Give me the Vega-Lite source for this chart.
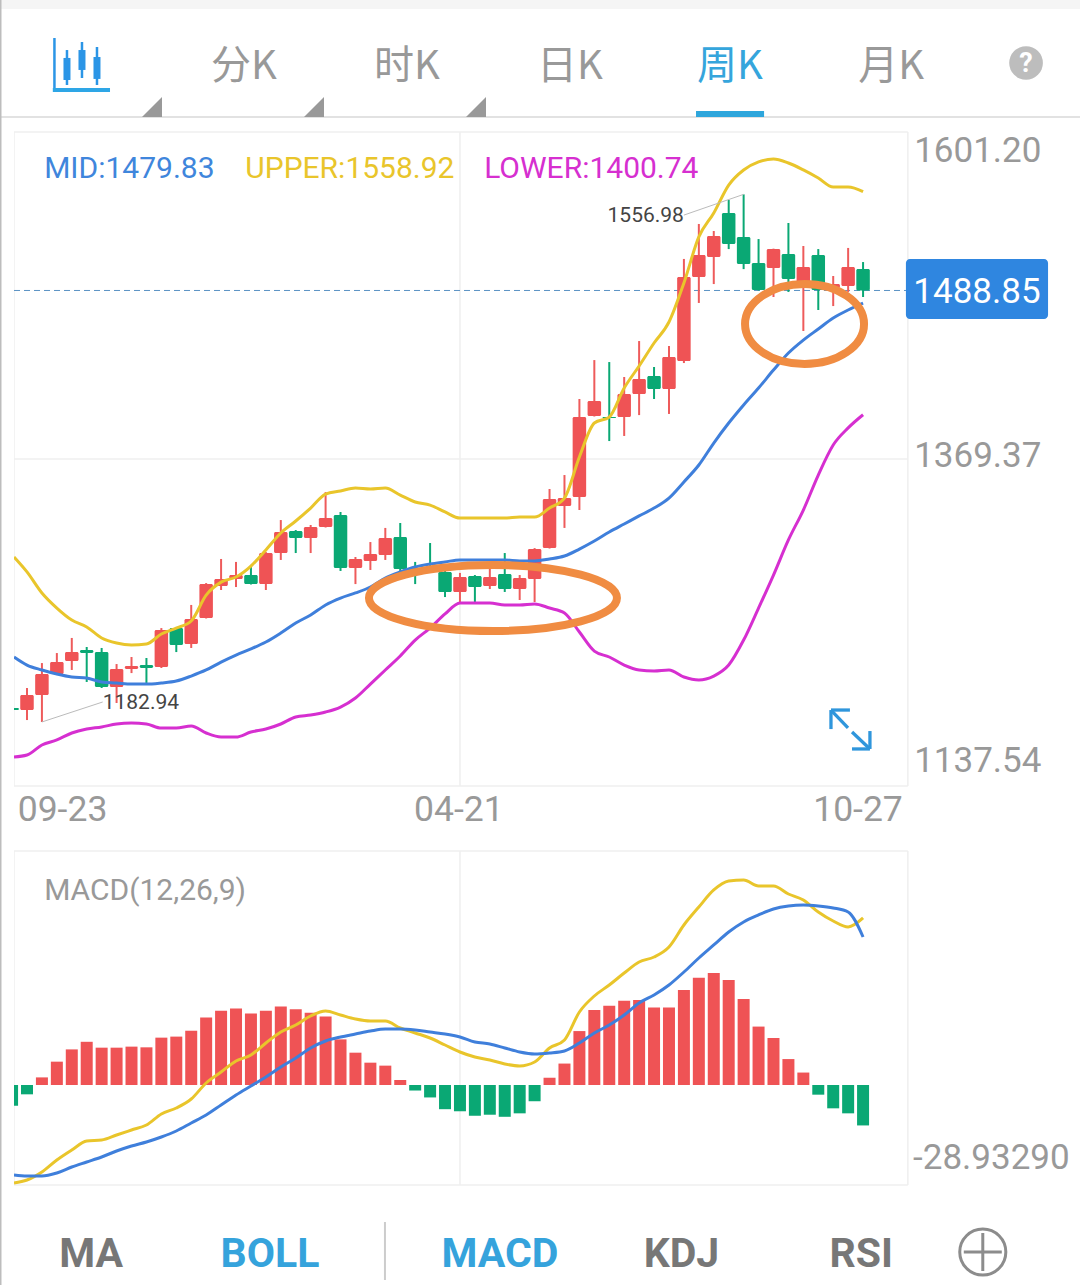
{
"$schema":"https://vega.github.io/schema/vega-lite/v6.json",
"padding":0,"spacing":0,"bounds":"flush","background":"white",
"resolve":{"scale":{"color":"independent"}},
"config":{"view":{"stroke":null},"axis":{"disable":true,"grid":false,"domain":false,"ticks":false,"title":null},"text":{"font":"Roboto"}},
"datasets":{
"candles":[
{"i":-1,"o":1192.8,"h":1193.5,"l":1190.7,"c":1191.4},{"i":0,"o":1191.4,"h":1207.0,"l":1184.3,"c":1202.0},{"i":1,"o":1202.0,"h":1224.7,"l":1182.94,"c":1216.9},{"i":2,"o":1216.9,"h":1231.8,"l":1216.2,"c":1225.4},{"i":3,"o":1226.1,"h":1242.5,"l":1219.8,"c":1232.5},{"i":4,"o":1233.9,"h":1236.1,"l":1211.3,"c":1231.8},{"i":5,"o":1232.5,"h":1235.4,"l":1207.0,"c":1207.7},{"i":6,"o":1207.7,"h":1224.0,"l":1196.4,"c":1220.5},{"i":7,"o":1220.5,"h":1229.0,"l":1217.6,"c":1222.6},{"i":8,"o":1223.3,"h":1228.3,"l":1210.6,"c":1221.2},
{"i":9,"o":1221.9,"h":1249.5,"l":1221.2,"c":1248.1},{"i":10,"o":1249.5,"h":1250.3,"l":1232.5,"c":1237.5},{"i":11,"o":1238.2,"h":1265.9,"l":1235.4,"c":1255.9},{"i":12,"o":1256.6,"h":1281.4,"l":1256.3,"c":1280.7},{"i":13,"o":1279.3,"h":1298.5,"l":1276.5,"c":1284.3},{"i":14,"o":1284.3,"h":1296.4,"l":1278.6,"c":1287.1},{"i":15,"o":1287.1,"h":1294.3,"l":1280.4,"c":1280.7},{"i":16,"o":1280.7,"h":1303.4,"l":1276.5,"c":1302.7},{"i":17,"o":1302.7,"h":1326.1,"l":1297.8,"c":1317.6},{"i":18,"o":1318.3,"h":1319.0,"l":1302.7,"c":1313.4},
{"i":19,"o":1313.4,"h":1322.6,"l":1302.7,"c":1321.2},{"i":20,"o":1321.2,"h":1345.9,"l":1320.8,"c":1327.5},{"i":21,"o":1329.7,"h":1331.8,"l":1290.0,"c":1292.1},{"i":22,"o":1292.1,"h":1299.9,"l":1280.7,"c":1298.5},{"i":23,"o":1297.1,"h":1310.5,"l":1290.7,"c":1302.0},{"i":24,"o":1301.3,"h":1320.5,"l":1297.8,"c":1313.4},{"i":25,"o":1314.1,"h":1324.0,"l":1289.3,"c":1291.4},{"i":26,"o":1292.1,"h":1296.4,"l":1280.7,"c":1290.0},{"i":27,"o":1292.1,"h":1309.8,"l":1288.6,"c":1289.3},{"i":28,"o":1289.3,"h":1290.7,"l":1271.5,"c":1275.1},
{"i":29,"o":1275.1,"h":1288.6,"l":1267.3,"c":1285.7},{"i":30,"o":1286.4,"h":1287.1,"l":1267.3,"c":1278.6},{"i":31,"o":1279.3,"h":1291.4,"l":1277.2,"c":1285.7},{"i":32,"o":1287.8,"h":1302.7,"l":1275.1,"c":1277.2},{"i":33,"o":1277.2,"h":1287.1,"l":1269.4,"c":1285.0},{"i":34,"o":1284.3,"h":1306.2,"l":1268.0,"c":1305.5},{"i":35,"o":1306.2,"h":1348.1,"l":1305.9,"c":1341.0},{"i":36,"o":1336.0,"h":1358.0,"l":1320.5,"c":1341.7},{"i":37,"o":1342.4,"h":1411.9,"l":1333.2,"c":1399.1},{"i":38,"o":1399.8,"h":1439.5,"l":1399.5,"c":1410.5},
{"i":39,"o":1399.1,"h":1438.1,"l":1382.1,"c":1398.4},{"i":40,"o":1399.1,"h":1427.5,"l":1385.7,"c":1415.5},{"i":41,"o":1415.5,"h":1453.0,"l":1400.5,"c":1426.1},{"i":42,"o":1428.2,"h":1434.6,"l":1411.9,"c":1419.0},{"i":43,"o":1419.0,"h":1449.5,"l":1401.3,"c":1441.7},{"i":44,"o":1438.8,"h":1511.2,"l":1437.4,"c":1498.4},{"i":45,"o":1498.4,"h":1536.0,"l":1480.0,"c":1514.0},{"i":46,"o":1512.6,"h":1531.0,"l":1493.4,"c":1527.5},{"i":47,"o":1543.8,"h":1553.0,"l":1518.2,"c":1521.8},{"i":48,"o":1526.8,"h":1556.98,"l":1504.0,"c":1507.6},
{"i":49,"o":1508.3,"h":1525.3,"l":1488.8,"c":1489.2},{"i":50,"o":1504.8,"h":1518.5,"l":1484.2,"c":1518.2},{"i":51,"o":1514.7,"h":1536.7,"l":1487.8,"c":1497.0},{"i":52,"o":1493.4,"h":1520.4,"l":1460.1,"c":1505.5},{"i":53,"o":1514.0,"h":1518.2,"l":1475.0,"c":1489.2},{"i":54,"o":1490.6,"h":1499.1,"l":1477.8,"c":1493.4},{"i":55,"o":1492.0,"h":1519.0,"l":1487.8,"c":1505.5},{"i":56,"o":1504.1,"h":1509.0,"l":1484.2,"c":1488.85}
],
"boll":[
{"i":-0.87,"u":1299.9,"m":1229.0,"d":1158.1},{"i":0,"u":1289.3,"m":1223.3,"d":1159.5},{"i":1,"u":1274.4,"m":1219.8,"d":1166.6},{"i":2,"u":1263.7,"m":1216.9,"d":1170.2},{"i":3,"u":1255.2,"m":1214.8,"d":1175.1},{"i":4,"u":1250.3,"m":1214.1,"d":1177.9},{"i":5,"u":1242.5,"m":1211.3,"d":1179.4},{"i":6,"u":1238.9,"m":1210.6,"d":1181.5},{"i":7,"u":1237.5,"m":1209.8,"d":1182.2},{"i":8,"u":1238.2,"m":1209.8,"d":1181.5},{"i":9,"u":1245.3,"m":1210.6,"d":1178.6},{"i":10,"u":1249.5,"m":1212.0,"d":1178.6},{"i":11,"u":1254.5,"m":1215.5,"d":1180.1},{"i":12,"u":1272.9,"m":1219.8,"d":1175.1},{"i":13,"u":1282.1,"m":1225.4,"d":1172.3},{"i":14,"u":1285.7,"m":1230.4,"d":1172.3},{"i":15,"u":1293.5,"m":1234.7,"d":1175.8},{"i":16,"u":1304.9,"m":1239.6,"d":1177.9},{"i":17,"u":1316.9,"m":1246.0,"d":1181.5},{"i":18,"u":1325.4,"m":1253.1,"d":1186.5},{"i":19,"u":1334.6,"m":1258.8,"d":1187.9},{"i":20,"u":1344.5,"m":1265.9,"d":1190.0},{"i":21,"u":1346.7,"m":1270.8,"d":1193.5},{"i":22,"u":1348.8,"m":1274.4,"d":1199.9},{"i":23,"u":1348.1,"m":1278.6,"d":1209.8},{"i":24,"u":1348.8,"m":1285.0,"d":1219.8},{"i":25,"u":1343.8,"m":1289.3,"d":1229.7},{"i":26,"u":1338.9,"m":1292.8,"d":1241.0},{"i":27,"u":1336.7,"m":1294.9,"d":1249.5},{"i":28,"u":1331.8,"m":1296.4,"d":1259.5},{"i":29,"u":1327.5,"m":1297.8,"d":1267.3},{"i":30,"u":1327.5,"m":1297.8,"d":1267.3},{"i":31,"u":1327.5,"m":1297.8,"d":1267.3},{"i":32,"u":1327.5,"m":1297.8,"d":1265.9},{"i":33,"u":1328.2,"m":1297.1,"d":1265.9},{"i":34,"u":1328.2,"m":1297.1,"d":1266.6},{"i":35,"u":1334.6,"m":1298.5,"d":1263.7},{"i":36,"u":1341.7,"m":1300.6,"d":1260.2},{"i":37,"u":1370.8,"m":1305.5,"d":1246.7},{"i":38,"u":1394.9,"m":1311.2,"d":1233.2},{"i":39,"u":1399.1,"m":1317.6,"d":1229.0},{"i":40,"u":1419.7,"m":1323.3,"d":1223.3},{"i":41,"u":1435.3,"m":1329.0,"d":1219.8},{"i":42,"u":1451.6,"m":1334.6,"d":1219.1},{"i":43,"u":1466.5,"m":1341.7,"d":1219.8},{"i":44,"u":1494.2,"m":1353.1,"d":1214.8},{"i":45,"u":1526.8,"m":1365.1,"d":1212.7},{"i":46,"u":1543.8,"m":1380.7,"d":1215.5},{"i":47,"u":1563.6,"m":1394.9,"d":1223.3},{"i":48,"u":1574.3,"m":1407.7,"d":1241.0},{"i":49,"u":1580.0,"m":1419.7,"d":1263.7},{"i":50,"u":1582.1,"m":1432.4,"d":1287.1},{"i":51,"u":1579.2,"m":1444.5,"d":1312.0},{"i":52,"u":1574.3,"m":1453.7,"d":1333.2},{"i":53,"u":1568.6,"m":1461.5,"d":1358.0},{"i":54,"u":1562.2,"m":1469.3,"d":1379.3},{"i":55,"u":1562.2,"m":1475.0,"d":1391.4},{"i":56,"u":1558.92,"m":1479.83,"d":1400.74}
],
"hist":[
{"i":-1,"v":-6.0},{"i":0,"v":-2.7},{"i":1,"v":2.2},{"i":2,"v":6.75},{"i":3,"v":10.3},{"i":4,"v":12.5},{"i":5,"v":10.8},{"i":6,"v":10.8},{"i":7,"v":11.1},{"i":8,"v":10.9},{"i":9,"v":13.7},{"i":10,"v":14.0},{"i":11,"v":15.7},{"i":12,"v":19.5},{"i":13,"v":21.5},{"i":14,"v":22.1},{"i":15,"v":20.7},{"i":16,"v":21.5},{"i":17,"v":22.7},{"i":18,"v":21.9},{"i":19,"v":20.9},{"i":20,"v":19.8},{"i":21,"v":13.2},{"i":22,"v":9.35},{"i":23,"v":6.46},{"i":24,"v":5.6},{"i":25,"v":1.45},{"i":26,"v":-1.6},{"i":27,"v":-3.6},{"i":28,"v":-7.0},{"i":29,"v":-7.6},{"i":30,"v":-8.9},{"i":31,"v":-8.6},{"i":32,"v":-9.2},{"i":33,"v":-8.2},{"i":34,"v":-4.7},{"i":35,"v":2.1},{"i":36,"v":6.2},{"i":37,"v":15.6},{"i":38,"v":21.7},{"i":39,"v":22.9},{"i":40,"v":24.4},{"i":41,"v":24.6},{"i":42,"v":22.4},{"i":43,"v":22.4},{"i":44,"v":27.5},{"i":45,"v":31.0},{"i":46,"v":32.4},{"i":47,"v":30.4},{"i":48,"v":24.9},{"i":49,"v":16.9},{"i":50,"v":13.6},{"i":51,"v":7.5},{"i":52,"v":3.6},{"i":53,"v":-2.8},{"i":54,"v":-6.75},{"i":55,"v":-8.2},{"i":56,"v":-11.7}
],
"macd":[
{"i":-0.87,"f":-28.35,"s":-26.04},{"i":0,"f":-27.49,"s":-26.33},{"i":1,"f":-25.17,"s":-26.33},{"i":2,"f":-21.7,"s":-25.46},{"i":3,"f":-18.81,"s":-23.73},{"i":4,"f":-16.2,"s":-22.28},{"i":5,"f":-15.91,"s":-20.83},{"i":6,"f":-14.47,"s":-19.1},{"i":7,"f":-13.02,"s":-17.65},{"i":8,"f":-11.57,"s":-16.49},{"i":9,"f":-8.39,"s":-15.05},{"i":10,"f":-6.65,"s":-13.31},{"i":11,"f":-4.05,"s":-10.99},{"i":12,"f":0.58,"s":-8.68},{"i":13,"f":3.76,"s":-5.79},{"i":14,"f":6.94,"s":-2.89},{"i":15,"f":8.68,"s":-0.29},{"i":16,"f":12.15,"s":2.31},{"i":17,"f":15.33,"s":5.21},{"i":18,"f":17.36,"s":7.81},{"i":19,"f":19.96,"s":10.71},{"i":20,"f":21.41,"s":12.73},{"i":21,"f":20.25,"s":13.89},{"i":22,"f":19.1,"s":14.76},{"i":23,"f":18.52,"s":15.62},{"i":24,"f":18.52,"s":16.2},{"i":25,"f":16.49,"s":16.2},{"i":26,"f":15.05,"s":15.91},{"i":27,"f":13.6,"s":15.33},{"i":28,"f":11.57,"s":14.76},{"i":29,"f":9.55,"s":13.89},{"i":30,"f":8.1,"s":12.44},{"i":31,"f":7.23,"s":11.86},{"i":32,"f":6.08,"s":10.71},{"i":33,"f":5.5,"s":9.55},{"i":34,"f":6.65,"s":8.97},{"i":35,"f":10.71,"s":9.26},{"i":36,"f":13.02,"s":9.84},{"i":37,"f":21.12,"s":12.15},{"i":38,"f":25.75,"s":15.05},{"i":39,"f":28.93,"s":17.36},{"i":40,"f":32.4,"s":20.25},{"i":41,"f":35.59,"s":23.73},{"i":42,"f":37.03,"s":26.04},{"i":43,"f":39.93,"s":28.93},{"i":44,"f":46.29,"s":32.69},{"i":45,"f":51.5,"s":36.74},{"i":46,"f":56.42,"s":40.51},{"i":47,"f":59.02,"s":44.27},{"i":48,"f":59.31,"s":47.16},{"i":49,"f":57.58,"s":49.19},{"i":50,"f":57.58,"s":50.92},{"i":51,"f":55.26,"s":51.79},{"i":52,"f":53.53,"s":52.08},{"i":53,"f":50.05,"s":51.79},{"i":54,"f":47.45,"s":51.21},{"i":55,"f":45.71,"s":50.05},{"i":56,"f":48.32,"s":42.82}
]
},
"vconcat":[
{"width":1080,"height":132,"layer":[
{"data":{"values":[{}]},"mark":{"type":"rect","color":"#f5f5f5"},"encoding":{"x":{"datum":-0.506,"type":"quantitative","scale":{"domain":[-0.506,6.16],"nice":false,"zero":false}},"x2":{"datum":6.16},"y":{"datum":1,"type":"quantitative","scale":{"domain":[0,1],"nice":false,"zero":false}},"y2":{"datum":0.932}}},
{"data":{"values":[{}]},"mark":{"type":"rect","color":"#e2e2e2"},"encoding":{"x":{"datum":-0.506},"x2":{"datum":6.16},"y":{"datum":0.121},"y2":{"datum":0.106}}},
{"data":{"values":[{}]},"mark":{"type":"rect","color":"#bdbdbd"},"encoding":{"x":{"datum":-0.506},"x2":{"datum":-0.4967}}},
{"data":{"values":[{"t":"分K","s":1,"c":"off"},{"t":"时K","s":2.006,"c":"off"},{"t":"日K","s":3.012,"c":"off"},{"t":"周K","s":4,"c":"on"},{"t":"月K","s":4.994,"c":"off"}]},"mark":{"type":"text","font":"Noto Sans CJK SC","fontSize":40,"baseline":"middle","align":"center","dy":2},"encoding":{"x":{"field":"s","type":"quantitative"},"y":{"datum":0.508},"text":{"field":"t"},"color":{"field":"c","scale":{"domain":["off","on"],"range":["#999999","#35a5dc"]},"legend":null}}},
{"data":{"values":[{}]},"mark":{"type":"rect","color":"#2ea6dc"},"encoding":{"x":{"datum":3.79},"x2":{"datum":4.21},"y":{"datum":0.16},"y2":{"datum":0.113}}},
{"data":{"values":[{"s":0.432},{"s":1.432},{"s":2.432}]},"mark":{"type":"point","filled":true,"color":"#999999","opacity":1,"size":400,"shape":"M1,-1L1,1L-1,1Z"},"encoding":{"x":{"field":"s","type":"quantitative"},"y":{"datum":0.189}}},
{"data":{"values":[{"x":-0.17,"a":0.712,"b":0.303},{"x":-0.0926,"a":0.621,"b":0.356},{"x":0,"a":0.682,"b":0.409},{"x":0.0926,"a":0.644,"b":0.356}]},"mark":{"type":"rule","color":"#2b95e6","strokeWidth":2.5},"encoding":{"x":{"field":"x","type":"quantitative"},"y":{"field":"a","type":"quantitative"},"y2":{"field":"b"}}},
{"data":{"values":[{"x":-0.0926,"a":0.561,"b":0.394},{"x":0,"a":0.621,"b":0.47},{"x":0.0926,"a":0.568,"b":0.402}]},"mark":{"type":"rule","color":"#2b95e6","strokeWidth":7},"encoding":{"x":{"field":"x","type":"quantitative"},"y":{"field":"a","type":"quantitative"},"y2":{"field":"b"}}},
{"data":{"values":[{}]},"mark":{"type":"rule","color":"#2ea6e6","strokeWidth":4},"encoding":{"x":{"datum":-0.18},"x2":{"datum":0.173},"y":{"datum":0.318}}},
{"data":{"values":[{}]},"mark":{"type":"point","filled":true,"color":"#bdbdbd","opacity":1,"size":1134,"shape":"circle"},"encoding":{"x":{"datum":5.827},"y":{"datum":0.523}}},
{"data":{"values":[{"t":"?"}]},"mark":{"type":"text","fontSize":27,"fontWeight":"bold","color":"white","baseline":"middle","align":"center","dy":1},"encoding":{"x":{"datum":5.827},"y":{"datum":0.523},"text":{"field":"t"}}}
]},
{"width":1080,"height":654,"layer":[
{"data":{"values":[{"y":1601.2},{"y":1369.37},{"y":1137.54}]},"mark":{"type":"rule","color":"#efefef","strokeWidth":1.5},"encoding":{"x":{"datum":-0.87,"type":"quantitative","scale":{"domain":[-1.808,70.53],"nice":false,"zero":false,"padding":0}},"x2":{"datum":59.0},"y":{"field":"y","type":"quantitative","scale":{"domain":[1137.54,1601.2],"nice":false,"zero":false}}}},
{"data":{"values":[{"x":-0.87},{"x":29},{"x":59.0}]},"mark":{"type":"rule","color":"#efefef","strokeWidth":1.5},"encoding":{"x":{"field":"x","type":"quantitative"}}},
{"data":{"values":[{"y":1488.85}]},"mark":{"type":"rule","color":"#5b93c4","strokeWidth":1,"strokeDash":[6,4]},"encoding":{"x":{"datum":-0.87},"x2":{"datum":58.9},"y":{"field":"y","type":"quantitative"}}},
{"data":{"name":"candles"},"mark":{"type":"rule","strokeWidth":2},"encoding":{"x":{"field":"i","type":"quantitative"},"y":{"field":"l","type":"quantitative"},"y2":{"field":"h"},"color":{"condition":{"test":"datum.c>=datum.o","value":"#ee5b5b"},"value":"#0aa874"}}},
{"data":{"name":"candles"},"mark":{"type":"bar","size":13.5,"cornerRadius":1.5},"encoding":{"x":{"field":"i","type":"quantitative"},"y":{"field":"o","type":"quantitative"},"y2":{"field":"c"},"color":{"condition":{"test":"datum.c>=datum.o","value":"#ef5355"},"value":"#0aa874"}}},
{"data":{"name":"boll"},"mark":{"type":"line","color":"#e9c52b","strokeWidth":3,"interpolate":"monotone"},"encoding":{"x":{"field":"i","type":"quantitative"},"y":{"field":"u","type":"quantitative"}}},
{"data":{"name":"boll"},"mark":{"type":"line","color":"#3f7fdb","strokeWidth":3,"interpolate":"monotone"},"encoding":{"x":{"field":"i","type":"quantitative"},"y":{"field":"m","type":"quantitative"}}},
{"data":{"name":"boll"},"mark":{"type":"line","color":"#d62fd0","strokeWidth":3,"interpolate":"monotone"},"encoding":{"x":{"field":"i","type":"quantitative"},"y":{"field":"d","type":"quantitative"}}},
{"data":{"values":[{}]},"mark":{"type":"rect","color":"white"},"encoding":{"x":{"datum":-1.808},"x2":{"datum":-0.87}}},
{"data":{"values":[{}]},"mark":{"type":"rect","color":"#bdbdbd"},"encoding":{"x":{"datum":-1.808},"x2":{"datum":-1.708}}},
{"data":{"values":[{}]},"mark":{"type":"rule","color":"#bbbbbb","strokeWidth":1},"encoding":{"x":{"datum":44.0},"x2":{"datum":48},"y":{"datum":1542.3},"y2":{"datum":1556.98}}},
{"data":{"values":[{}]},"mark":{"type":"rule","color":"#bbbbbb","strokeWidth":1},"encoding":{"x":{"datum":1},"x2":{"datum":5.07},"y":{"datum":1182.94},"y2":{"datum":1197.1}}},
{"data":{"values":[{"t":"1556.98","i":44.0,"y":1542.3}]},"mark":{"type":"text","fontSize":21,"color":"#444444","align":"right","baseline":"middle","dy":1},"encoding":{"x":{"field":"i","type":"quantitative"},"y":{"field":"y","type":"quantitative"},"text":{"field":"t"}}},
{"data":{"values":[{"t":"1182.94","i":5.07,"y":1197.1}]},"mark":{"type":"text","fontSize":21,"color":"#444444","align":"left","baseline":"middle","dy":1},"encoding":{"x":{"field":"i","type":"quantitative"},"y":{"field":"y","type":"quantitative"},"text":{"field":"t"}}},
{"data":{"values":[{"i":31.21,"y":1270.8}]},"mark":{"type":"point","filled":false,"color":"#f08c42","opacity":1,"strokeWidth":8,"size":61504,"shape":"M-1,0A1,0.266,0,1,1,1,0A1,0.266,0,1,1,-1,0Z"},"encoding":{"x":{"field":"i","type":"quantitative"},"y":{"field":"y","type":"quantitative"}}},
{"data":{"values":[{"i":52.08,"y":1465.1}]},"mark":{"type":"point","filled":false,"color":"#f08c42","opacity":1,"strokeWidth":8,"size":14161,"shape":"M-1,0A1,0.672,0,1,1,1,0A1,0.672,0,1,1,-1,0Z"},"encoding":{"x":{"field":"i","type":"quantitative"},"y":{"field":"y","type":"quantitative"}}},
{"data":{"values":[{}]},"mark":{"type":"rect","color":"#2f86e0","cornerRadius":4},"encoding":{"x":{"datum":58.87},"x2":{"datum":68.39},"y":{"datum":1511.2},"y2":{"datum":1468.6}}},
{"data":{"values":[{"t":"1488.85","y":1488.2}]},"mark":{"type":"text","fontSize":35,"color":"white","align":"center","baseline":"middle","dy":1},"encoding":{"x":{"datum":63.63},"y":{"field":"y","type":"quantitative"},"text":{"field":"t"}}},
{"data":{"values":[{"t":"MID:1479.83","s":"MID","x":1.15},{"t":"UPPER:1558.92","s":"UPPER","x":14.62},{"t":"LOWER:1400.74","s":"LOWER","x":30.62}]},"mark":{"type":"text","fontSize":30,"align":"left","baseline":"middle","dy":2},"encoding":{"x":{"field":"x","type":"quantitative"},"y":{"datum":1576.4},"text":{"field":"t"},"color":{"field":"s","scale":{"domain":["MID","UPPER","LOWER"],"range":["#3f86dc","#e9c52b","#d62fd0"]},"legend":null}}},
{"data":{"values":[{"a":53.85,"b":54.99,"p":1191.4,"q":1178.7},{"a":55.26,"b":56.46,"p":1175.8,"q":1163.8},{"a":53.85,"b":55.12,"p":1191.4,"q":1191.4},{"a":53.85,"b":53.85,"p":1191.4,"q":1177.9},{"a":56.46,"b":55.26,"p":1163.8,"q":1163.8},{"a":56.46,"b":56.46,"p":1163.8,"q":1176.5}]},"mark":{"type":"rule","color":"#2f96dc","strokeWidth":3.3},"encoding":{"x":{"field":"a","type":"quantitative"},"x2":{"field":"b"},"y":{"field":"p","type":"quantitative"},"y2":{"field":"q"}}},
{"data":{"values":[{"p":1601.2}]},"mark":{"type":"text","fontSize":35,"color":"#999999","align":"left","baseline":"middle","dy":19},"encoding":{"x":{"datum":59.42},"y":{"field":"p","type":"quantitative"},"text":{"field":"p","format":".2f"}}},
{"data":{"values":[{"p":1369.37}]},"mark":{"type":"text","fontSize":35,"color":"#999999","align":"left","baseline":"middle","dy":-3},"encoding":{"x":{"datum":59.42},"y":{"field":"p","type":"quantitative"},"text":{"field":"p","format":".2f"}}},
{"data":{"values":[{"p":1137.54}]},"mark":{"type":"text","fontSize":35,"color":"#999999","align":"left","baseline":"middle","dy":-25},"encoding":{"x":{"datum":59.42},"y":{"field":"p","type":"quantitative"},"text":{"field":"p","format":".2f"}}}
]},
{"width":1080,"height":65,"layer":[
{"data":{"values":[{"t":"09-23","i":2.38},{"t":"04-21","i":28.93},{"t":"10-27","i":55.66}]},"mark":{"type":"text","fontSize":35.5,"color":"#999999","align":"center","baseline":"middle","dy":2},"encoding":{"x":{"field":"i","type":"quantitative","scale":{"domain":[-1.808,70.53],"nice":false,"zero":false}},"y":{"datum":0.66,"type":"quantitative","scale":{"domain":[0,1],"nice":false,"zero":false}},"text":{"field":"t"}}},
{"data":{"values":[{}]},"mark":{"type":"rect","color":"#bdbdbd"},"encoding":{"x":{"datum":-1.808},"x2":{"datum":-1.708}}}
]},
{"width":1080,"height":334,"layer":[
{"data":{"values":[{"y":67.7},{"y":-28.9329}]},"mark":{"type":"rule","color":"#efefef","strokeWidth":1.5},"encoding":{"x":{"datum":-0.87,"type":"quantitative","scale":{"domain":[-1.808,70.53],"nice":false,"zero":false,"padding":0}},"x2":{"datum":59.0},"y":{"field":"y","type":"quantitative","scale":{"domain":[-28.9329,67.7],"nice":false,"zero":false}}}},
{"data":{"values":[{"x":-0.87},{"x":29},{"x":59.0}]},"mark":{"type":"rule","color":"#efefef","strokeWidth":1.5},"encoding":{"x":{"field":"x","type":"quantitative"}}},
{"data":{"name":"hist"},"mark":{"type":"bar","size":12},"encoding":{"x":{"field":"i","type":"quantitative"},"y":{"field":"v","type":"quantitative"},"y2":{"datum":0},"color":{"condition":{"test":"datum.v>=0","value":"#ef5355"},"value":"#0aa874"}}},
{"data":{"name":"macd"},"mark":{"type":"line","color":"#e9c52b","strokeWidth":3,"interpolate":"monotone"},"encoding":{"x":{"field":"i","type":"quantitative"},"y":{"field":"f","type":"quantitative"}}},
{"data":{"name":"macd"},"mark":{"type":"line","color":"#3f7fdb","strokeWidth":3,"interpolate":"monotone"},"encoding":{"x":{"field":"i","type":"quantitative"},"y":{"field":"s","type":"quantitative"}}},
{"data":{"values":[{}]},"mark":{"type":"rect","color":"white"},"encoding":{"x":{"datum":-1.808},"x2":{"datum":-0.87}}},
{"data":{"values":[{}]},"mark":{"type":"rect","color":"#bdbdbd"},"encoding":{"x":{"datum":-1.808},"x2":{"datum":-1.708}}},
{"data":{"values":[{"t":"MACD(12,26,9)","y":56.7}]},"mark":{"type":"text","fontSize":30,"color":"#999999","align":"left","baseline":"middle","dy":2},"encoding":{"x":{"datum":1.15},"y":{"field":"y","type":"quantitative"},"text":{"field":"t"}}},
{"data":{"values":[{"p":-28.9329,"t":"-28.93290"}]},"mark":{"type":"text","fontSize":35,"color":"#999999","align":"left","baseline":"middle","dy":-27},"encoding":{"x":{"datum":59.35},"y":{"field":"p","type":"quantitative"},"text":{"field":"t"}}}
]},
{"width":1080,"height":100,"layer":[
{"data":{"values":[{"t":"MA","s":0.056,"c":"off"},{"t":"BOLL","s":1.16,"c":"on"},{"t":"MACD","s":2.58,"c":"on"},{"t":"KDJ","s":3.7,"c":"off"},{"t":"RSI","s":4.81,"c":"off"}]},"mark":{"type":"text","fontSize":41,"fontWeight":"bold","align":"center","baseline":"middle","dy":2},"encoding":{"x":{"field":"s","type":"quantitative","scale":{"domain":[-0.506,6.16],"nice":false,"zero":false}},"y":{"datum":0.32,"type":"quantitative","scale":{"domain":[0,1],"nice":false,"zero":false}},"text":{"field":"t"},"color":{"field":"c","scale":{"domain":["off","on"],"range":["#777777","#35a3dc"]},"legend":null}}},
{"data":{"values":[{}]},"mark":{"type":"rule","color":"#cccccc","strokeWidth":2},"encoding":{"x":{"datum":1.87},"y":{"datum":0.63},"y2":{"datum":0.05}}},
{"data":{"values":[{}]},"mark":{"type":"point","filled":false,"color":"#8c8c8c","opacity":1,"strokeWidth":3,"size":2124,"shape":"circle"},"encoding":{"x":{"datum":5.56},"y":{"datum":0.33}}},
{"data":{"values":[{}]},"mark":{"type":"point","filled":false,"color":"#8c8c8c","opacity":1,"strokeWidth":3,"size":1444,"shape":"M-1,0L1,0M0,-1L0,1"},"encoding":{"x":{"datum":5.56},"y":{"datum":0.33}}},
{"data":{"values":[{}]},"mark":{"type":"rect","color":"#bdbdbd"},"encoding":{"x":{"datum":-0.506},"x2":{"datum":-0.4967}}}
]}
]
}
